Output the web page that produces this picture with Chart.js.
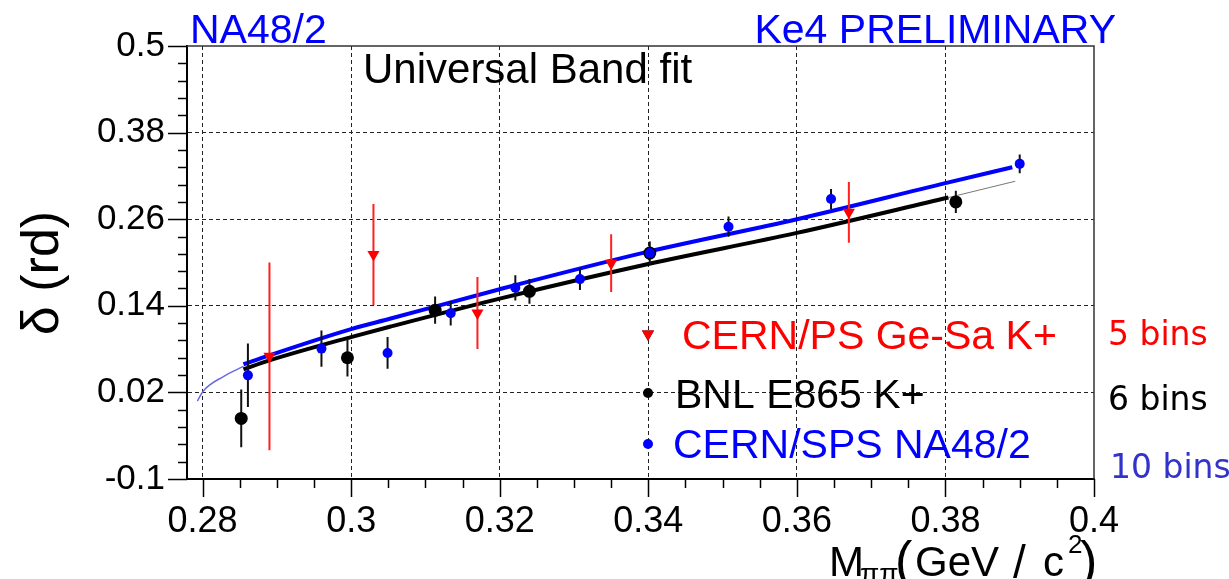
<!DOCTYPE html>
<html>
<head>
<meta charset="utf-8">
<script src="https://cdn.jsdelivr.net/npm/chart.js@4.4.0/dist/chart.umd.min.js"></script>
<style>
  html, body { margin: 0; padding: 0; background: #fff; }
  #wrap { width: 1229px; height: 579px; position: relative; }
</style>
</head>
<body>
<div id="wrap"><canvas id="myChart"></canvas></div>
<script>
// tick labels (major), minor ticks are put in between
var xTickLabels = ['0.28', '0.3', '0.32', '0.34', '0.36', '0.38', '0.4'];
var yTickLabels = ['-0.1', '0.02', '0.14', '0.26', '0.38', '0.5'];

// CERN/PS Ge-Sa K+ (5 bins)
var geSaX   = [0.289, 0.303, 0.317, 0.335, 0.367];
var geSaY   = [0.070, 0.211, 0.130, 0.199, 0.2695];
var geSaErr = [0.130, 0.070, 0.050, 0.040, 0.042];

// BNL E865 K+ (6 bins)
var bnlX   = [0.2852, 0.2995, 0.3113, 0.3240, 0.3402, 0.3814];
var bnlY   = [-0.016, 0.068, 0.134, 0.160, 0.213, 0.284];
var bnlErr = [0.040, 0.026, 0.019, 0.017, 0.016, 0.0155];

// CERN/SPS NA48/2 (10 bins)
var na48X   = [0.2861, 0.2960, 0.3049, 0.3134, 0.3221, 0.3308, 0.3402, 0.3508, 0.3646, 0.3900];
var na48Y   = [0.0436, 0.0807, 0.0746, 0.1297, 0.1649, 0.1770, 0.2130, 0.2496, 0.2880, 0.3367];
var na48Err = [0.044, 0.025, 0.022, 0.017, 0.0175, 0.015, 0.015, 0.014, 0.014, 0.013];

// Universal Band fit curves
var bandBlueX  = [0.2855, 0.2889, 0.3001, 0.3052, 0.3200, 0.3400, 0.3600, 0.3800, 0.3890];
var bandBlueY  = [0.059, 0.071, 0.108, 0.122, 0.163, 0.215, 0.260, 0.310, 0.332];
var bandBlackX = [0.2855, 0.2889, 0.3001, 0.3052, 0.3200, 0.3400, 0.3600, 0.3804];
var bandBlackY = [0.052, 0.064, 0.097, 0.111, 0.150, 0.198, 0.241, 0.290];
var thinLowX   = [0.2793, 0.2801, 0.2828, 0.2855];
var thinLowY   = [0.008, 0.022, 0.042, 0.056];
var thinHighX  = [0.3804, 0.3894];
var thinHighY  = [0.290, 0.3126];

function pts(xs, ys) {
  return xs.map(function(x, i) { return {x: x, y: ys[i]}; });
}

// error bars as one line with gaps
function errBars(xs, ys, es) {
  var out = [];
  for (var i = 0; i < xs.length; i++) {
    out.push({x: xs[i], y: ys[i] - es[i]});
    out.push({x: xs[i], y: ys[i] + es[i]});
    out.push({x: xs[i], y: null});
  }
  return out;
}

function buildTicks(labels, sub) {
  var ticks = [];
  for (var i = 0; i < labels.length; i++) {
    var v = parseFloat(labels[i]);
    ticks.push({value: v, isMajor: true, text: labels[i]});
    if (i < labels.length - 1) {
      var next = parseFloat(labels[i + 1]);
      for (var k = 1; k < sub; k++) {
        ticks.push({value: v + (next - v) * k / sub, isMajor: false, text: ''});
      }
    }
  }
  return ticks;
}

function gridColor(c) {
  var s = c.scale;
  if (c.tick && c.tick.isMajor && c.tick.value > s.min + 1e-6 && c.tick.value < s.max - 1e-6) return '#222';
  return 'rgba(0,0,0,0)';
}

// frame, tick marks and all the texts
var decor = {
  id: 'decor',
  afterDraw: function(chart) {
    var ctx = chart.ctx, a = chart.chartArea;
    var xs = chart.scales.x, ys = chart.scales.y;
    ctx.save();

    ctx.strokeStyle = '#333';
    ctx.lineWidth = 1.5;
    ctx.beginPath();
    ctx.moveTo(a.left, a.top);
    ctx.lineTo(a.right, a.top);
    ctx.lineTo(a.right, a.bottom);
    ctx.stroke();

    ctx.strokeStyle = '#000';
    ctx.lineWidth = 1.5;
    xs.ticks.forEach(function(t) {
      var px = Math.round(xs.getPixelForValue(t.value)) + 0.5;
      ctx.beginPath();
      ctx.moveTo(px, a.bottom);
      ctx.lineTo(px, a.bottom + (t.isMajor ? 18 : 9));
      ctx.stroke();
    });
    ys.ticks.forEach(function(t) {
      var py = Math.round(ys.getPixelForValue(t.value)) + 0.5;
      ctx.beginPath();
      ctx.moveTo(a.left, py);
      ctx.lineTo(a.left - (t.isMajor ? 19 : 9), py);
      ctx.stroke();
    });

    ctx.textBaseline = 'alphabetic';
    ctx.textAlign = 'left';
    ctx.font = '41px "Liberation Sans"';
    ctx.fillStyle = '#0000ff';
    ctx.fillText('NA48/2', 190, 43);
    ctx.textAlign = 'right';
    ctx.fillText('Ke4 PRELIMINARY', 1116, 43);

    ctx.textAlign = 'left';
    ctx.fillStyle = '#000';
    ctx.font = '42px "Liberation Sans"';
    ctx.fillText('Universal Band fit', 363, 83);

    // legend
    Chart.helpers.drawPoint(ctx, {pointStyle: 'triangle', radius: 7, rotation: 180, borderWidth: 0}, 648, 334);
    ctx.fillStyle = '#ff0000';
    ctx.fill();
    ctx.fillStyle = '#000';
    ctx.beginPath(); ctx.arc(648, 393, 5, 0, Math.PI * 2); ctx.fill();
    ctx.fillStyle = '#0000ff';
    ctx.beginPath(); ctx.arc(648, 444, 5, 0, Math.PI * 2); ctx.fill();

    ctx.font = '41px "Liberation Sans"';
    ctx.fillStyle = '#ff0000';
    ctx.fillText('CERN/PS Ge-Sa K+', 682, 349);
    ctx.fillStyle = '#000';
    ctx.fillText('BNL E865 K+', 675, 408);
    ctx.fillStyle = '#0000ff';
    ctx.fillText('CERN/SPS NA48/2', 673, 458);

    ctx.font = '33px "DejaVu Sans"';
    ctx.fillStyle = '#ff0000';
    ctx.fillText('5 bins', 1108, 345);
    ctx.fillStyle = '#000';
    ctx.fillText('6 bins', 1108, 410);
    ctx.fillStyle = '#3333cc';
    ctx.fillText('10 bins', 1110, 478);

    // y title
    ctx.save();
    ctx.translate(58, 273);
    ctx.rotate(-Math.PI / 2);
    ctx.textAlign = 'center';
    ctx.fillStyle = '#000';
    ctx.font = '52px "Liberation Sans"';
    ctx.fillText('\u03b4 (rd)', 0, 0);
    ctx.restore();

    // x title: M_pipi (GeV / c^2)
    ctx.fillStyle = '#000';
    ctx.textAlign = 'left';
    ctx.font = '42px "Liberation Sans"';
    ctx.fillText('M', 829, 576);
    ctx.font = '28px "Liberation Sans"';
    ctx.fillText('\u03c0\u03c0', 860, 583);
    ctx.font = '52px "Liberation Sans"';
    ctx.fillText('(', 895, 578);
    ctx.font = '42px "Liberation Sans"';
    ctx.fillText('GeV', 915, 576);
    ctx.font = '46px "Liberation Sans"';
    ctx.fillText('/', 1013, 578);
    ctx.font = '42px "Liberation Sans"';
    ctx.fillText('c', 1043, 576);
    ctx.font = '26px "Liberation Sans"';
    ctx.fillText('2', 1068, 553);
    ctx.font = '52px "Liberation Sans"';
    ctx.fillText(')', 1080, 578);

    ctx.restore();
  }
};

var ctx = document.getElementById('myChart').getContext('2d');
var myChart = new Chart(ctx, {
  type: 'line',
  data: {
    datasets: [
      {
        label: 'CERN/SPS NA48/2',
        data: pts(na48X, na48Y),
        showLine: false,
        pointStyle: 'circle',
        pointRadius: 5,
        pointBackgroundColor: '#0000ff',
        pointBorderWidth: 0,
        order: 0
      },
      {
        label: 'BNL E865 K+',
        data: pts(bnlX, bnlY),
        showLine: false,
        pointStyle: 'circle',
        pointRadius: 6.5,
        pointBackgroundColor: '#000',
        pointBorderWidth: 0,
        order: 1
      },
      {
        label: 'CERN/PS Ge-Sa K+',
        data: pts(geSaX, geSaY),
        showLine: false,
        pointStyle: 'triangle',
        pointRotation: 180,
        pointRadius: 7,
        pointBackgroundColor: '#ff0000',
        pointBorderWidth: 0,
        order: 2
      },
      {
        data: errBars(geSaX, geSaY, geSaErr),
        borderColor: '#ff2020',
        borderWidth: 2,
        pointRadius: 0,
        spanGaps: false,
        order: 3
      },
      {
        data: errBars(bnlX, bnlY, bnlErr).concat(errBars(na48X, na48Y, na48Err)),
        borderColor: '#111',
        borderWidth: 2,
        pointRadius: 0,
        spanGaps: false,
        order: 3
      },
      {
        data: pts(bandBlueX, bandBlueY),
        borderColor: '#0000ff',
        borderWidth: 4,
        pointRadius: 0,
        cubicInterpolationMode: 'monotone',
        order: 4
      },
      {
        data: pts(bandBlackX, bandBlackY),
        borderColor: '#000',
        borderWidth: 4,
        pointRadius: 0,
        cubicInterpolationMode: 'monotone',
        order: 5
      },
      {
        data: pts(thinLowX, thinLowY),
        borderColor: '#6a6ae0',
        borderWidth: 1.5,
        pointRadius: 0,
        cubicInterpolationMode: 'monotone',
        order: 6
      },
      {
        data: pts(thinHighX, thinHighY),
        borderColor: '#777',
        borderWidth: 1,
        pointRadius: 0,
        order: 6
      }
    ]
  },
  options: {
    responsive: true,
    maintainAspectRatio: false,
    animation: false,
    devicePixelRatio: 1,
    layout: {padding: {top: 46, right: 135, left: 0, bottom: 0}},
    plugins: {legend: {display: false}, tooltip: {enabled: false}},
    scales: {
      x: {
        type: 'linear',
        min: 0.2779,
        max: 0.4,
        afterBuildTicks: function(s) { s.ticks = buildTicks(xTickLabels, 4); },
        afterFit: function(s) { s.height = 100; },
        ticks: {
          autoSkip: false,
          maxRotation: 0,
          padding: 21,
          color: '#000',
          font: {family: 'Liberation Sans', size: 36},
          callback: function(v, i, t) { return t[i].text; }
        },
        grid: {drawTicks: false, color: gridColor, lineWidth: 1},
        border: {display: true, color: '#000', width: 2, dash: [4, 3]}
      },
      y: {
        type: 'linear',
        min: -0.1,
        max: 0.5,
        afterBuildTicks: function(s) { s.ticks = buildTicks(yTickLabels, 5); },
        afterFit: function(s) { s.width = 187; },
        ticks: {
          autoSkip: false,
          padding: 22,
          color: '#000',
          font: {family: 'Liberation Sans', size: 35},
          callback: function(v, i, t) { return t[i].text; }
        },
        grid: {drawTicks: false, color: gridColor, lineWidth: 1},
        border: {display: true, color: '#000', width: 2, dash: [4, 3]}
      }
    }
  },
  plugins: [decor]
});
</script>
</body>
</html>
